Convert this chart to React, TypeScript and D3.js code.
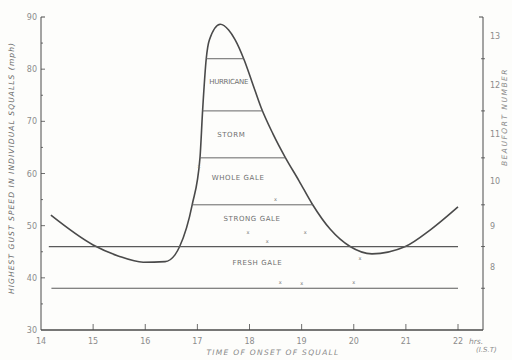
import React, { useRef, useEffect } from 'react';
import * as d3 from 'd3';

// squall curve, (hour IST, highest gust mph)
const curveHours = [14.19, 15.0, 15.48, 15.96, 16.38, 16.57, 16.66, 16.9, 17.05, 17.1, 17.17, 17.23, 17.44, 17.6, 17.72, 17.9, 18.05, 18.22, 18.45, 18.68, 18.95, 19.2, 19.55, 19.93, 20.35, 20.99, 21.47, 22.0];
const curveMph = [52.0, 46.3, 44.2, 43.0, 43.1, 44.4, 46.0, 54.0, 63.0, 72.0, 82.0, 85.6, 88.6, 87.5, 85.7, 81.7, 77.5, 72.7, 67.6, 63.2, 58.6, 54.2, 49.3, 46.0, 44.6, 46.0, 49.2, 53.6];

// beaufort boundaries drawn across the chart
const bandLevels = [38, 46, 54, 63, 72, 82];
const beaufortNums = [8, 9, 10, 11, 12, 13];
const beaufortMid = [42, 50, 58.5, 67.5, 77, 86.3];

const bandNames = ['FRESH  GALE', 'STRONG  GALE', 'WHOLE GALE', 'STORM', 'HURRICANE'];
const bandNameMph = [42.5, 50.8, 58.8, 67, 77.2];
const bandNameHour = [18.15, 18.05, 17.78, 17.65, 17.6];

const xTicks = [14, 15, 16, 17, 18, 19, 20, 21, 22];
const yTicks = [30, 40, 50, 60, 70, 80, 90];

// stray observation crosses
const obsHour = [17.97, 18.34, 19.07, 18.5, 18.59, 19.0, 20.0, 20.12, 17.03];
const obsMph = [48.8, 47.0, 48.8, 55.2, 39.2, 39.0, 39.2, 43.8, 61.5];

const App = () => {
  const svgRef = useRef(null);

  useEffect(() => {
    const svg = d3.select(svgRef.current);
    svg.selectAll('*').remove();

    const ink = '#4a4a4a';
    const pale = '#8c8c8c';
    const font = 'DejaVu Sans, sans-serif';

    const x = d3.scaleLinear().domain([14, 22]).range([41, 458]);
    const y = d3.scaleLinear().domain([30, 90]).range([330, 17]);
    const xEnd = 483;

    svg.append('rect').attr('width', 512).attr('height', 360).attr('fill', '#fdfdfb');

    // axes frame
    svg.append('line').attr('x1', x(14)).attr('x2', xEnd).attr('y1', y(30)).attr('y2', y(30))
      .attr('stroke', ink).attr('stroke-width', 1.3);
    svg.append('line').attr('x1', x(14)).attr('x2', x(14)).attr('y1', y(30)).attr('y2', y(90))
      .attr('stroke', ink).attr('stroke-width', 1);
    svg.append('line').attr('x1', xEnd).attr('x2', xEnd).attr('y1', y(30)).attr('y2', y(90))
      .attr('stroke', ink).attr('stroke-width', 1);
    svg.append('line').attr('x1', x(14)).attr('x2', x(14) + 4).attr('y1', y(90)).attr('y2', y(90))
      .attr('stroke', ink);
    svg.append('line').attr('x1', xEnd - 4).attr('x2', xEnd).attr('y1', y(90)).attr('y2', y(90))
      .attr('stroke', ink);

    // bottom ticks
    svg.selectAll('.xt').data(xTicks.slice(1)).enter().append('line')
      .attr('x1', d => x(d)).attr('x2', d => x(d))
      .attr('y1', y(30)).attr('y2', y(30) - 6)
      .attr('stroke', ink).attr('stroke-width', 0.8);
    svg.selectAll('.xl').data(xTicks).enter().append('text')
      .attr('x', d => x(d)).attr('y', 344)
      .attr('text-anchor', 'middle')
      .style('font', `8px ${font}`).attr('fill', pale)
      .text(d => d);

    // left ticks
    svg.selectAll('.yt').data(d3.range(35, 90, 5)).enter().append('line')
      .attr('x1', x(14)).attr('x2', d => x(14) + (d % 10 === 0 ? 4 : 2))
      .attr('y1', d => y(d)).attr('y2', d => y(d))
      .attr('stroke', ink).attr('stroke-width', 0.8);
    svg.selectAll('.yl').data(yTicks).enter().append('text')
      .attr('x', 37).attr('y', d => y(d) + 3)
      .attr('text-anchor', 'end')
      .style('font', `8px ${font}`).attr('fill', pale)
      .text(d => d);

    // right beaufort axis
    svg.selectAll('.rt').data(bandLevels).enter().append('line')
      .attr('x1', xEnd - 2).attr('x2', xEnd + 2)
      .attr('y1', d => y(d)).attr('y2', d => y(d))
      .attr('stroke', ink).attr('stroke-width', 0.8);
    svg.selectAll('.rl').data(beaufortNums).enter().append('text')
      .attr('x', 490).attr('y', (d, i) => y(beaufortMid[i]) + 3)
      .style('font', `8px ${font}`).attr('fill', pale)
      .text(d => d);

    // squall curve
    const pts = curveHours.map((h, i) => [x(h), y(curveMph[i])]);
    const line = d3.line().curve(d3.curveMonotoneX);
    const path = svg.append('path')
      .attr('d', line(pts))
      .attr('fill', 'none')
      .attr('stroke', ink)
      .attr('stroke-width', 1.6);

    // sample path to find where each band level meets the curve
    const node = path.node();
    const len = node.getTotalLength();
    const samples = d3.range(0, len, 0.5).map(l => node.getPointAtLength(l));
    const peakIdx = d3.maxIndex(samples, p => -p.y);

    bandLevels.forEach((lv, i) => {
      let x1, x2;
      if (i < 2) {
        x1 = i === 0 ? x(14.2) : x(14.15);
        x2 = x(22);
      } else {
        const yy = y(lv);
        const left = samples.slice(0, peakIdx).reduce((a, b) => Math.abs(b.y - yy) < Math.abs(a.y - yy) ? b : a);
        const right = samples.slice(peakIdx).reduce((a, b) => Math.abs(b.y - yy) < Math.abs(a.y - yy) ? b : a);
        x1 = left.x; x2 = right.x;
      }
      svg.append('line')
        .attr('x1', x1).attr('x2', x2).attr('y1', y(lv)).attr('y2', y(lv))
        .attr('stroke', i < 2 ? '#5a5a5a' : '#666').attr('stroke-width', i < 2 ? 1.2 : 1);
    });

    // band names
    svg.selectAll('.bn').data(bandNames).enter().append('text')
      .attr('x', (d, i) => x(bandNameHour[i]))
      .attr('y', (d, i) => y(bandNameMph[i]))
      .attr('text-anchor', 'middle')
      .style('font', `${7}px ${font}`)
      .style('letter-spacing', (d, i) => i === 4 ? '-0.3px' : '0.6px')
      .attr('fill', '#707070')
      .text(d => d);

    // observation crosses
    svg.selectAll('.ob').data(obsHour).enter().append('text')
      .attr('x', (d) => x(d)).attr('y', (d, i) => y(obsMph[i]) + 2)
      .attr('text-anchor', 'middle')
      .style('font', `5px ${font}`).attr('fill', '#777')
      .text('x');

    // titles
    svg.append('text')
      .attr('transform', 'translate(14,168) rotate(-90)')
      .attr('text-anchor', 'middle')
      .style('font', `italic 7.5px ${font}`).style('letter-spacing', '1.1px')
      .attr('fill', '#6a6a6a')
      .text('HIGHEST GUST SPEED IN INDIVIDUAL SQUALLS (mph)');
    svg.append('text')
      .attr('transform', 'translate(507,117) rotate(-90)')
      .attr('text-anchor', 'middle')
      .style('font', `italic 7.5px ${font}`).style('letter-spacing', '1.5px')
      .attr('fill', '#8a8a8a')
      .text('BEAUFORT  NUMBER');
    svg.append('text')
      .attr('x', 273).attr('y', 355)
      .attr('text-anchor', 'middle')
      .style('font', `italic 7.5px ${font}`).style('letter-spacing', '1.3px')
      .attr('fill', '#8a8a8a')
      .text('TIME OF ONSET OF SQUALL');
    svg.append('text')
      .attr('x', 469).attr('y', 344)
      .style('font', `italic 7.5px ${font}`).attr('fill', pale)
      .text('hrs.');
    svg.append('text')
      .attr('x', 476).attr('y', 352)
      .style('font', `italic 7px ${font}`).attr('fill', pale)
      .text('(I.S.T)');
  }, []);

  return (
    <svg ref={svgRef} width={512} height={360}
      style={{ position: 'absolute', left: 0, top: 0, display: 'block' }} />
  );
};

export default App;
